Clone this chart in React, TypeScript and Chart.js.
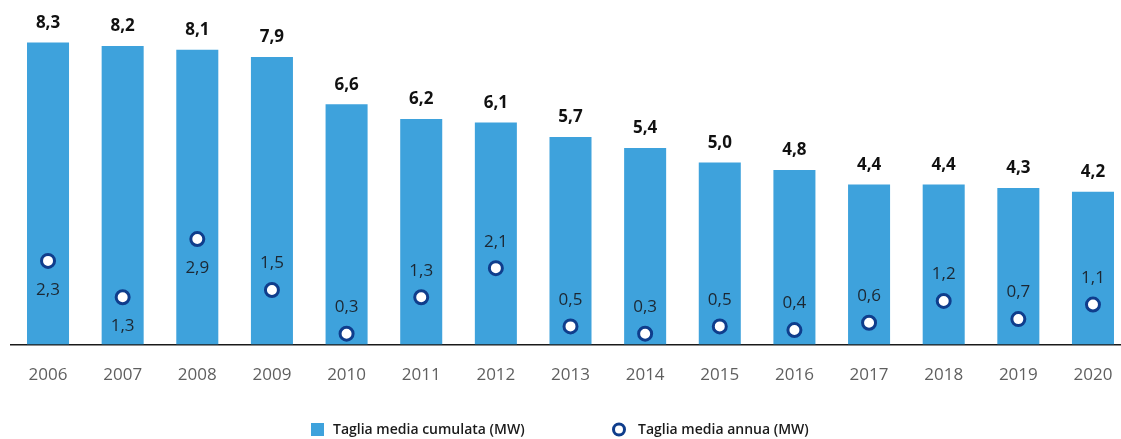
import React, { useEffect, useRef } from "react";
import { Chart, registerables } from "chart.js";

Chart.register(...registerables);

const years = ["2006", "2007", "2008", "2009", "2010", "2011", "2012", "2013", "2014", "2015", "2016", "2017", "2018", "2019", "2020"];
const cumulata = [8.3, 8.2, 8.1, 7.9, 6.6, 6.2, 6.1, 5.7, 5.4, 5.0, 4.8, 4.4, 4.4, 4.3, 4.2];
const annua = [2.3, 1.3, 2.9, 1.5, 0.3, 1.3, 2.1, 0.5, 0.3, 0.5, 0.4, 0.6, 1.2, 0.7, 1.1];
const annuaLabelSide = ["below", "below", "below", "above", "above", "above", "above", "above", "above", "above", "above", "above", "above", "above", "above"];
const legendLabels = ["Taglia media cumulata (MW)", "Taglia media annua (MW)"];

const BAR_COLOR = "#3ea2dc";
const NAVY = "#0f3d8c";
const FONT = "'Open Sans', 'DejaVu Sans', sans-serif";

const fmt = (v: number) => v.toFixed(1).replace(".", ",");

const labelsPlugin = {
  id: "valueLabels",
  afterDatasetsDraw(chart: any) {
    const ctx = chart.ctx;
    ctx.save();
    const barMeta = chart.getDatasetMeta(0);
    ctx.font = `700 17px ${FONT}`;
    ctx.fillStyle = "#111111";
    ctx.textAlign = "center";
    ctx.textBaseline = "middle";
    barMeta.data.forEach((el: any, i: number) => {
      ctx.fillText(fmt(cumulata[i]), el.x, el.y - 19.5);
    });
    const ptMeta = chart.getDatasetMeta(1);
    ctx.font = `400 17px ${FONT}`;
    ctx.fillStyle = "#1c2732";
    ptMeta.data.forEach((el: any, i: number) => {
      const dy = annuaLabelSide[i] === "below" ? 29 : -26.5;
      ctx.fillText(fmt(annua[i]), el.x, el.y + dy);
    });
    ctx.restore();
  },
};

const legendPlugin = {
  id: "customLegend",
  afterDraw(chart: any) {
    const ctx = chart.ctx;
    ctx.save();
    const y = 430;
    ctx.font = `600 14px ${FONT}`;
    ctx.textAlign = "left";
    ctx.textBaseline = "middle";
    ctx.fillStyle = BAR_COLOR;
    ctx.fillRect(311, y - 7, 13, 13);
    ctx.fillStyle = "#1b1b1b";
    ctx.fillText(legendLabels[0], 333, y);
    ctx.beginPath();
    ctx.arc(619, y - 0.5, 5.5, 0, Math.PI * 2);
    ctx.fillStyle = "#ffffff";
    ctx.fill();
    ctx.lineWidth = 3;
    ctx.strokeStyle = NAVY;
    ctx.stroke();
    ctx.fillStyle = "#1b1b1b";
    ctx.fillText(legendLabels[1], 638, y);
    ctx.restore();
  },
};

export default function App() {
  const ref = useRef<HTMLCanvasElement | null>(null);
  useEffect(() => {
    document.body.style.margin = "0";
    if (!ref.current) return;
    const chart = new Chart(ref.current, {
      type: "bar",
      data: {
        labels: years,
        datasets: [
          {
            type: "bar",
            label: legendLabels[0],
            data: cumulata,
            backgroundColor: BAR_COLOR,
            categoryPercentage: 1,
            barPercentage: 0.563,
            order: 2,
          },
          {
            type: "line",
            label: legendLabels[1],
            data: annua,
            showLine: false,
            pointRadius: 6.5,
            pointBorderWidth: 3,
            pointBackgroundColor: "#ffffff",
            pointBorderColor: NAVY,
            order: 1,
          } as any,
        ],
      },
      options: {
        responsive: false,
        animation: false,
        devicePixelRatio: 1,
        layout: { padding: { top: 17, left: 10.7, right: 9.7, bottom: 34 } },
        plugins: { legend: { display: false }, tooltip: { enabled: false } },
        scales: {
          x: {
            grid: { display: false, drawTicks: false },
            border: { display: true, color: "#1a1a1a", width: 1.5 },
            ticks: { color: "#5f5f5f", font: { family: FONT, size: 17 }, padding: 20 },
          },
          y: {
            display: false,
            min: 0,
            max: 9,
          },
        },
      },
      plugins: [labelsPlugin, legendPlugin],
    });
    return () => chart.destroy();
  }, []);
  return (
    <div style={{ width: 1121, height: 439, overflow: "hidden", position: "relative", background: "#fff" }}>
      <canvas ref={ref} width={1140} height={439} style={{ display: "block" }} />
    </div>
  );
}
